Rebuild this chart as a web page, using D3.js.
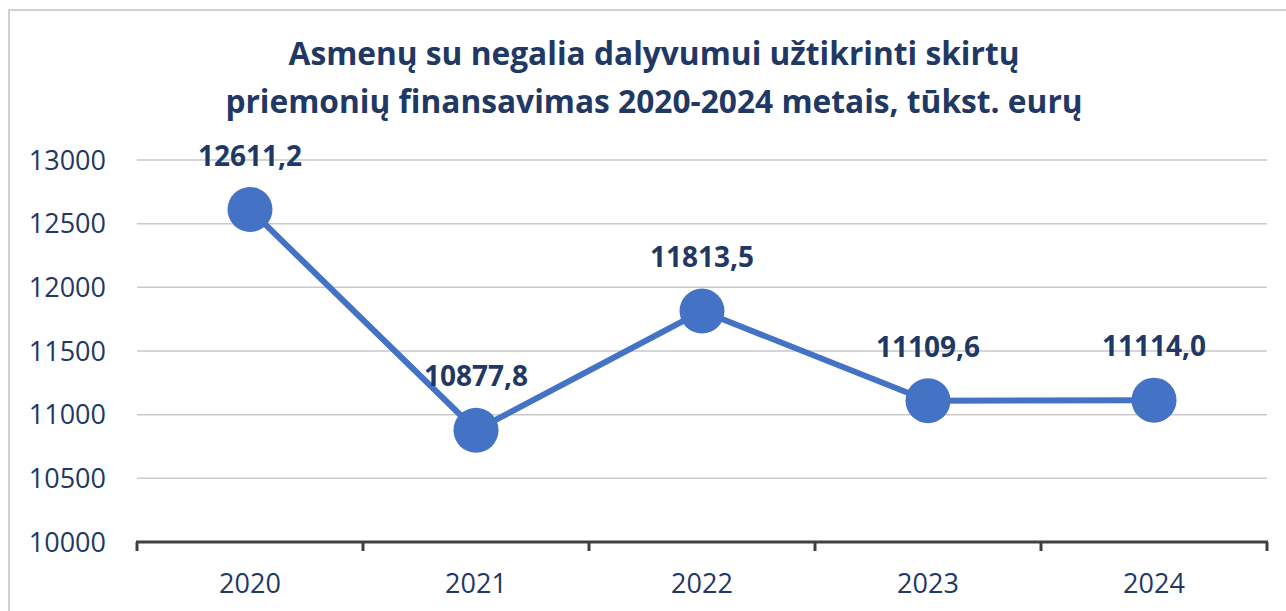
<!DOCTYPE html>
<html>
<head>
<meta charset="utf-8">
<script src="https://cdn.jsdelivr.net/npm/d3@7"></script>
<style>
  body { margin: 0; background: #fff; }
  svg { display: block; font-family: "Open Sans", sans-serif; }
</style>
</head>
<body>
<svg id="chart" width="1286" height="611"></svg>
<script>
const years = ["2020", "2021", "2022", "2023", "2024"];
const values = [12611.2, 10877.8, 11813.5, 11109.6, 11114.0];
const yTicks = [10000, 10500, 11000, 11500, 12000, 12500, 13000];
const titleLines = ["Asmenų su negalia dalyvumui užtikrinti skirtų",
                    "priemonių finansavimas 2020-2024 metais, tūkst. eurų"];

const navy = "#1f3864";
const blue = "#4472c4";

const svg = d3.select("#chart");

// chart frame
svg.append("rect")
  .attr("x", 9).attr("y", 10)
  .attr("width", 1290).attr("height", 620)
  .attr("fill", "none")
  .attr("stroke", "#d0d0d0")
  .attr("stroke-width", 2);

// title
svg.append("g").selectAll("text")
  .data(titleLines)
  .enter()
  .append("text")
  .attr("x", 654)
  .attr("y", (d, i) => 65 + i * 48)
  .attr("text-anchor", "middle")
  .attr("fill", navy)
  .style("font-size", "31.7px")
  .style("font-weight", "bold")
  .text(d => d);

const x = d3.scaleBand().domain(years).range([137, 1267]);
const y = d3.scaleLinear().domain([10000, 13000]).range([542, 160]);

// gridlines
svg.append("g")
  .selectAll("line")
  .data(yTicks.slice(1))
  .enter()
  .append("line")
  .attr("x1", 137).attr("x2", 1267)
  .attr("y1", d => y(d)).attr("y2", d => y(d))
  .attr("stroke", "#c9c9c9")
  .attr("stroke-width", 1.5);

// y labels
svg.append("g")
  .selectAll("text")
  .data(yTicks)
  .enter()
  .append("text")
  .attr("x", 106)
  .attr("y", d => y(d))
  .attr("dy", "0.36em")
  .attr("text-anchor", "end")
  .attr("fill", navy)
  .style("font-size", "27px")
  .text(d => d);

// x axis
const xAxis = svg.append("g");
xAxis.append("line")
  .attr("x1", 136).attr("x2", 1268)
  .attr("y1", y(10000)).attr("y2", y(10000))
  .attr("stroke", "#404040")
  .attr("stroke-width", 3);
const bounds = years.map(d => x(d)).concat([x.range()[1]]);
xAxis.selectAll(".tick")
  .data(bounds)
  .enter()
  .append("line")
  .attr("x1", d => d).attr("x2", d => d)
  .attr("y1", y(10000)).attr("y2", y(10000) + 9)
  .attr("stroke", "#404040")
  .attr("stroke-width", 3);
xAxis.selectAll("text")
  .data(years)
  .enter()
  .append("text")
  .attr("x", d => x(d) + x.bandwidth() / 2)
  .attr("y", 593)
  .attr("text-anchor", "middle")
  .attr("fill", navy)
  .style("font-size", "27px")
  .text(d => d);

const pts = years.map((d, i) => ({ year: d, value: values[i] }));
const cx = d => x(d.year) + x.bandwidth() / 2;

// line
svg.append("path")
  .datum(pts)
  .attr("fill", "none")
  .attr("stroke", blue)
  .attr("stroke-width", 6)
  .attr("d", d3.line().x(cx).y(d => y(d.value)));

// markers
svg.append("g")
  .selectAll("circle")
  .data(pts)
  .enter()
  .append("circle")
  .attr("cx", cx)
  .attr("cy", d => y(d.value))
  .attr("r", 22.5)
  .attr("fill", blue);

// data labels
const fmt = v => v.toFixed(1).replace(".", ",");
svg.append("g")
  .selectAll("text")
  .data(pts)
  .enter()
  .append("text")
  .attr("x", cx)
  .attr("y", d => y(d.value) - 44)
  .attr("text-anchor", "middle")
  .attr("fill", navy)
  .style("font-size", "28px")
  .style("font-weight", "bold")
  .text(d => fmt(d.value));
</script>
</body>
</html>
